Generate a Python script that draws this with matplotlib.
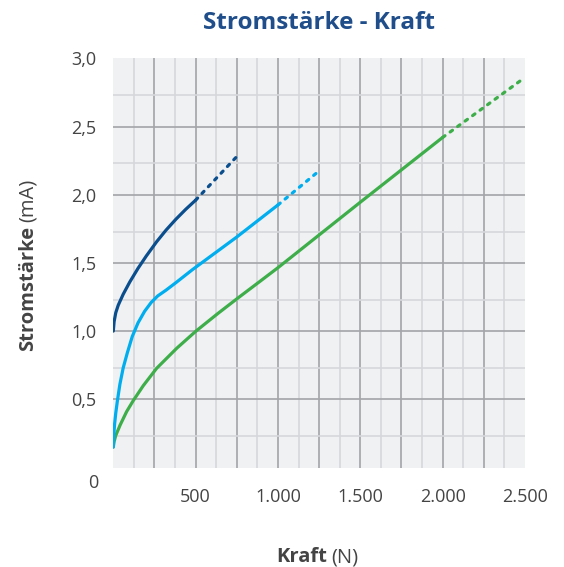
import numpy as np
import matplotlib
matplotlib.use("Agg")
import matplotlib.pyplot as plt
from matplotlib.ticker import FixedLocator, FuncFormatter

plt.rcParams['font.family'] = ['Open Sans', 'DejaVu Sans']

# --- data (Kraft in N, Stromstaerke in mA) ---
dark_n = [0, 5, 15, 30, 60, 100, 150, 200, 263, 320, 380, 440, 500]
dark_i = [1.0, 1.07, 1.135, 1.19, 1.27, 1.36, 1.46, 1.55, 1.655, 1.74, 1.82,
          1.893, 1.96]
dark_n_ext = [500, 750]
dark_i_ext = [1.96, 2.28]

light_n = [0, 3, 8, 15, 25, 40, 60, 85, 115, 150, 190, 230, 270, 320, 380, 480,
           750, 1000]
light_i = [0.15, 0.24, 0.32, 0.40, 0.49, 0.61, 0.73, 0.84, 0.96, 1.06, 1.145,
           1.21, 1.258, 1.30, 1.355, 1.45, 1.69, 1.925]
light_n_ext = [1000, 1250]
light_i_ext = [1.925, 2.175]

green_n = [0, 5, 15, 41, 81, 121, 182, 263, 385, 502, 636, 754, 891, 1000,
           1500, 2000]
green_i = [0.15, 0.19, 0.235, 0.31, 0.41, 0.49, 0.60, 0.727, 0.874, 1.0, 1.13,
           1.24, 1.365, 1.465, 1.945, 2.42]
green_n_ext = [2000, 2500]
green_i_ext = [2.42, 2.86]

x_labels = {500: "500", 1000: "1.000", 1500: "1.500", 2000: "2.000", 2500: "2.500"}

DARK = "#0a4e8d"
LIGHT = "#00adee"
GREEN = "#3dae49"
TEXT = "#444444"
W, H = 564, 567


def fx(px):
    return px / W


def fy(py):
    return 1 - py / H


fig = plt.figure(figsize=(W / 100, H / 100), dpi=100)
ax = fig.add_axes([fx(113.3), fy(467.5), fx(525) - fx(113.3), fy(58.3) - fy(467.5)])
ax.set_facecolor("#f0f1f3")

lw = 2.3
for n, i, n2, i2, c in [(green_n, green_i, green_n_ext, green_i_ext, GREEN),
                        (light_n, light_i, light_n_ext, light_i_ext, LIGHT),
                        (dark_n, dark_i, dark_n_ext, dark_i_ext, DARK)]:
    ax.plot(n, i, color=c, lw=lw, solid_capstyle="round", solid_joinstyle="round", zorder=3)
    ax.plot(n2, i2, color=c, lw=lw, dashes=(0.9, 2.0), dash_capstyle="round", zorder=3)

ax.set_xlim(0, 2500)
ax.set_ylim(0, 3.0)

ax.xaxis.set_major_locator(FixedLocator(np.arange(250, 2501, 250)))
ax.xaxis.set_minor_locator(FixedLocator(np.arange(125, 2500, 250)))
ax.xaxis.set_major_formatter(FuncFormatter(lambda v, p: x_labels.get(int(round(v)), "")))
ax.yaxis.set_major_locator(FixedLocator(np.arange(0.5, 3.01, 0.5)))
ax.yaxis.set_minor_locator(FixedLocator(np.arange(0.23, 3.0, 0.5)))
ax.yaxis.set_major_formatter(FuncFormatter(lambda v, p: f"{v:.1f}".replace(".", ",")))

ax.grid(which="major", color="#a3a4a8", lw=1.2, zorder=1)
ax.grid(which="minor", color="#d6d7db", lw=1.2, zorder=1)
ax.set_axisbelow(True)
ax.tick_params(which="both", length=0, labelsize=13, labelcolor=TEXT)
ax.tick_params(axis="x", pad=15)
ax.tick_params(axis="y", pad=12)
for s in ax.spines.values():
    s.set_visible(False)
# no grid line on the right and top edges
ax.xaxis.get_major_ticks()[-1].gridline.set_visible(False)
ax.yaxis.get_major_ticks()[-1].gridline.set_visible(False)

# origin label sits apart from both axes
fig.text(fx(93), fy(483), "0", ha="center", va="center", fontsize=13, color=TEXT)

fig.text(fx(319), fy(23), "Stromstärke - Kraft", ha="center", va="center",
         fontsize=17.5, fontweight="bold", color="#1f4e8b")

# x label: bold word + regular unit
fig.text(fx(327), fy(562), "Kraft", ha="right", va="baseline", fontsize=14.5,
         fontweight="bold", color=TEXT)
fig.text(fx(331), fy(562), "(N)", ha="left", va="baseline", fontsize=14.5, color=TEXT)

# y label, rotated
fig.text(fx(33), fy(226), "Stromstärke", ha="right", va="baseline", rotation=90,
         rotation_mode="anchor", fontsize=14.5, fontweight="bold", color=TEXT)
fig.text(fx(33), fy(222), "(mA)", ha="left", va="baseline", rotation=90,
         rotation_mode="anchor", fontsize=14.5, color=TEXT)

fig.savefig("out.png", dpi=100)
